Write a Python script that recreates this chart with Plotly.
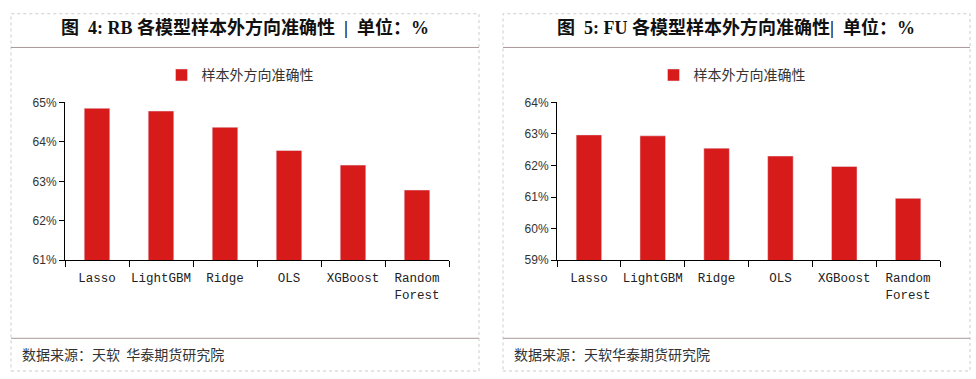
import plotly.graph_objects as go

W, H = 976, 379

categories = ["Lasso", "LightGBM", "Ridge", "OLS", "XGBoost", "Random<br>Forest"]
rb_values = [64.85, 64.78, 64.37, 63.78, 63.41, 62.78]
fu_values = [62.97, 62.94, 62.55, 62.30, 61.97, 60.96]
series_name = "样本外方向准确性"
title_left = "图  4: RB 各模型样本外方向准确性  |  单位：%"
title_right = "图  5: FU 各模型样本外方向准确性|  单位：%"
source_left = "数据来源：天软  华泰期货研究院"
source_right = "数据来源：天软华泰期货研究院"
rb_ticks = [61, 62, 63, 64, 65]
fu_ticks = [59, 60, 61, 62, 63, 64]

BAR = "#d71a1a"

def px(x):
    return x / W

def py(y):
    return 1 - y / H

fig = go.Figure()
fig.add_trace(go.Bar(x=categories, y=rb_values, name=series_name, marker_color=BAR,
                     xaxis="x", yaxis="y", legend="legend", showlegend=True))
fig.add_trace(go.Bar(x=categories, y=fu_values, name=series_name, marker_color=BAR,
                     xaxis="x2", yaxis="y2", legend="legend2", showlegend=True))

xfont = dict(family="Liberation Mono, DejaVu Sans Mono, monospace", size=12.5, color="#222")
yfont = dict(family="Liberation Sans Narrow, Liberation Sans, Arial", size=12, color="#333")

common_x = dict(showline=True, linecolor="#000", linewidth=1, ticks="outside", ticklen=6,
                tickcolor="#000", tickson="boundaries", tickfont=xfont, showgrid=False,
                zeroline=False, fixedrange=True, tickangle=0, ticklabelstandoff=6)
common_y = dict(showline=True, linecolor="#000", linewidth=1, ticks="outside", ticklen=5,
                tickcolor="#000", tickfont=yfont, showgrid=False,
                zeroline=False, fixedrange=True, tickmode="array")

fig.update_layout(
    width=W, height=H,
    margin=dict(l=0, r=0, t=0, b=0),
    paper_bgcolor="white", plot_bgcolor="white",
    bargap=0.6,
    xaxis=dict(domain=[px(65), px(449)], anchor="y", **common_x),
    yaxis=dict(domain=[py(263), py(99)], anchor="x", range=[61, 65], tickvals=rb_ticks,
               ticktext=[f"{v}%" for v in rb_ticks], **common_y),
    xaxis2=dict(domain=[px(557), px(940)], anchor="y2", **common_x),
    yaxis2=dict(domain=[py(263), py(99)], anchor="x2", range=[59, 64], tickvals=fu_ticks,
                ticktext=[f"{v}%" for v in fu_ticks], **common_y),
    legend=dict(orientation="h", x=px(240), xanchor="center", y=py(71), yanchor="middle",
                font=dict(family="Noto Sans CJK SC", size=14, color="#333"),
                bgcolor="rgba(0,0,0,0)"),
    legend2=dict(orientation="h", x=px(732), xanchor="center", y=py(71), yanchor="middle",
                 font=dict(family="Noto Sans CJK SC", size=14, color="#333"),
                 bgcolor="rgba(0,0,0,0)"),
)

shapes = []
for (x0, x1) in [(11, 479), (503, 970)]:
    shapes.append(dict(type="rect", xref="paper", yref="paper", x0=px(x0), x1=px(x1),
                       y0=py(378), y1=py(7), line=dict(color="#cccccc", width=1, dash="dot")))
    for yy in (42, 344):
        shapes.append(dict(type="line", xref="paper", yref="paper", x0=px(x0), x1=px(x1),
                           y0=py(yy), y1=py(yy), line=dict(color="#a89898", width=1)))
fig.update_layout(shapes=shapes)

tfont = dict(family="Liberation Serif, Noto Sans CJK SC", size=18, color="#111")
sfont = dict(family="Noto Sans CJK SC", size=14, color="#333")
ann = [
    dict(text="<b>" + title_left + "</b>", x=px(245), y=py(21), xref="paper", yref="paper",
         xanchor="center", yanchor="middle", showarrow=False, font=tfont),
    dict(text="<b>" + title_right + "</b>", x=px(736), y=py(21), xref="paper", yref="paper",
         xanchor="center", yanchor="middle", showarrow=False, font=tfont),
    dict(text=source_left, x=px(20), y=py(360), xref="paper", yref="paper",
         xanchor="left", yanchor="middle", showarrow=False, font=sfont),
    dict(text=source_right, x=px(512), y=py(360), xref="paper", yref="paper",
         xanchor="left", yanchor="middle", showarrow=False, font=sfont),
]
fig.update_layout(annotations=ann)

fig.write_html("out.html", config={"displayModeBar": False},
               post_script="document.body.style.margin='0';document.body.style.overflow='hidden';")
